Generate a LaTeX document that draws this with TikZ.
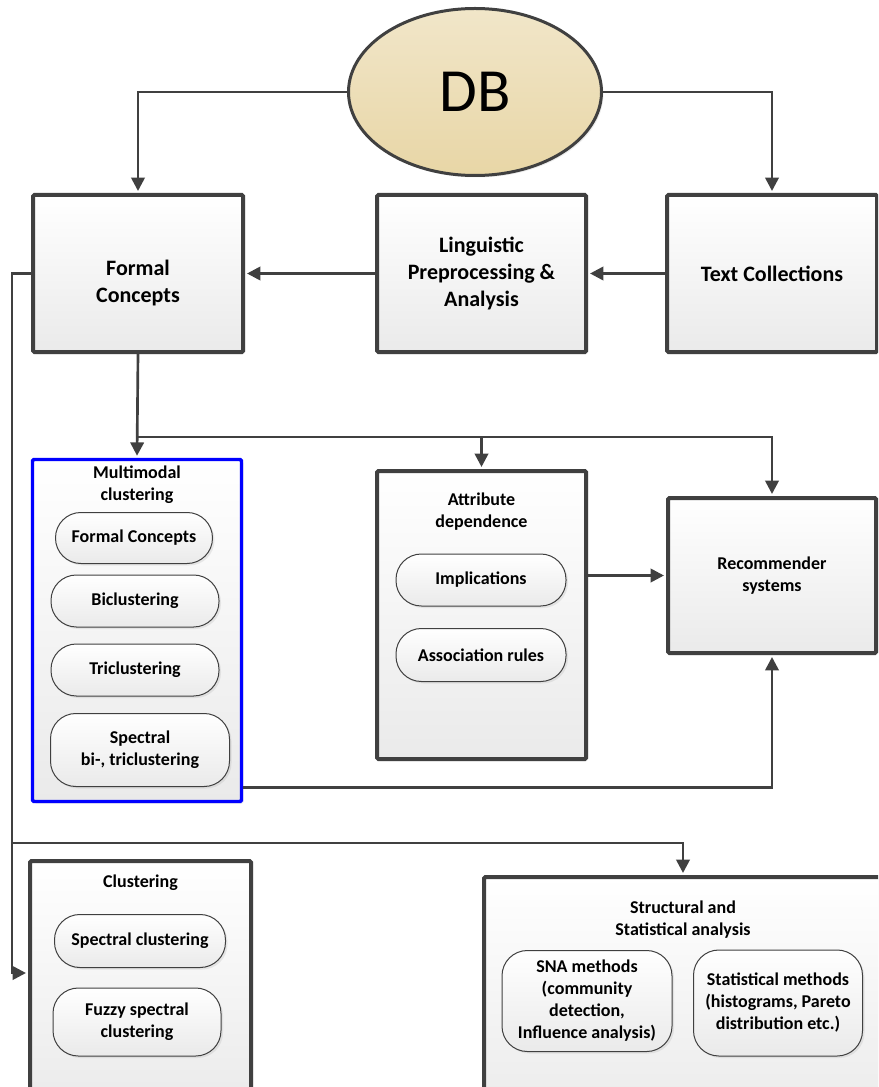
\documentclass[tikz,border=0pt]{standalone}
\usepackage{fontspec}
\setmainfont{Carlito}
\usetikzlibrary{positioning, shapes.geometric, arrows.meta, shadows}

\definecolor{edgegray}{HTML}{404040}
\definecolor{dbtop}{HTML}{F1E6C9}
\definecolor{dbbottom}{HTML}{E8D6A6}
\definecolor{boxbottom}{HTML}{EAEAEA}

\begin{document}
\begin{tikzpicture}[x=0.75pt, y=-0.75pt, >={Triangle[length=10pt, width=10pt]},
    conn/.style={->, draw=edgegray, line width=2pt, shorten >=1.5pt},
    boxsize/.style 2 args={minimum width=#1*0.75pt, minimum height=#2*0.75pt},
    bigbox/.style={draw=edgegray, line width=3pt, rounded corners=1pt, top color=white, bottom color=boxbottom, drop shadow={shadow xshift=1.5pt, shadow yshift=-1.5pt, opacity=0.18}, align=center, inner sep=0pt, font=\fontsize{16.5}{20}\selectfont\bfseries},
    pill/.style={draw=edgegray, line width=0.75pt, rounded corners=19pt, top color=white, bottom color=boxbottom, drop shadow={shadow xshift=1.5pt, shadow yshift=-1.5pt, opacity=0.15}, align=center, inner sep=2pt, font=\fontsize{13.5}{16.5}\selectfont\bfseries},
    title/.style={align=center, inner sep=0pt, font=\fontsize{13.5}{16.5}\selectfont\bfseries},
    boxtext/.style={align=center, inner sep=0pt, font=\fontsize{16.5}{20}\selectfont\bfseries}]
    \useasboundingbox (0,0) rectangle (878,1087);
    \clip (0,0) rectangle (878,1087);

    % top row
    \node[ellipse, draw=edgegray, line width=2.25pt, top color=dbtop, bottom color=dbbottom, boxsize={253}{167}, inner sep=0pt, drop shadow={shadow xshift=1.5pt, shadow yshift=-1.5pt, opacity=0.15}, font=\fontsize{46}{50}\selectfont] (db) at (475,92) {DB};
    \node[bigbox, boxsize={210}{157}] (fc) at (138,273.5) {};
    \node[boxtext] (fct) at (138,283) {Formal\\Concepts};
    \node[bigbox, boxsize={209}{157}] (ling) at (481.5,273.5) {Linguistic\\Preprocessing \&\\Analysis};
    \node[bigbox, boxsize={210}{157}] (txt) at (772,273.5) {Text Collections};

    % middle row
    \node[bigbox, draw=blue, line width=2.6pt, boxsize={209}{342}] (mm) at (137,630.5) {};
    \node[title, below=6pt of mm.north] (mmt) {Multimodal\\clustering};
    \node[pill, boxsize={157}{51}] (mfc) at (134,538) {Formal Concepts};
    \node[pill, boxsize={168}{52}] (bic) at (135,601) {Biclustering};
    \node[pill, boxsize={168}{52}] (tric) at (135,670) {Triclustering};
    \node[pill, boxsize={179}{73}] (spec) at (140,750) {Spectral\\bi-, triclustering};

    \node[bigbox, boxsize={209}{288}] (attr) at (481.5,615) {};
    \node[title, below=18pt of attr.north] (attrt) {Attribute\\dependence};
    \node[pill, boxsize={170}{52}] (impl) at (481,580) {Implications};
    \node[pill, boxsize={170}{53}] (assoc) at (481,655) {Association rules};

    \node[bigbox, boxsize={208}{155}, font=\fontsize{13.5}{16.5}\selectfont\bfseries] (rec) at (772,575.5) {Recommender\\systems};

    % bottom row
    \node[bigbox, boxsize={221}{250}] (clu) at (140.5,986) {};
    \node[title, below=12pt of clu.north] (clut) {Clustering};
    \node[pill, boxsize={171}{53}] (sclu) at (140,941) {Spectral clustering};
    \node[pill, boxsize={168}{68}] (fsclu) at (137,1022) {Fuzzy spectral\\clustering};

    \node[bigbox, boxsize={398}{250}] (str) at (683,1002) {};
    \node[title, below=19pt of str.north] (strt) {Structural and\\Statistical analysis};
    \node[pill, boxsize={170}{101}] (sna) at (587,1001) {SNA methods\\(community\\detection,\\Influence analysis)};
    \node[pill, boxsize={169}{106}] (stat) at (778,1003) {Statistical methods\\(histograms, Pareto\\distribution etc.)};

    % connectors
    \coordinate (jn) at (138,437);
    \coordinate (cl) at (12,843);
    \draw[conn] (db.west) -| (fc.north);
    \draw[conn] (db.east) -| (txt.north);
    \draw[conn] (txt.west) -- (ling.east);
    \draw[conn] (ling.west) -- (fc.east);
    \draw[conn] (fc.south) -- (mm.north);
    \draw[conn] (jn) -| (rec.north);
    \draw[conn] (jn -| attr.north) -- (attr.north);
    \draw[conn] (attr.east |- rec.west) -- (rec.west);
    \draw[conn] ([yshift=11.6pt]mm.south east) -| (rec.south);
    \draw[conn] (fc.west) -| (cl) |- ([yshift=9.75pt]clu.west);
    \draw[conn] (cl) -| (str.north);
\end{tikzpicture}
\end{document}
